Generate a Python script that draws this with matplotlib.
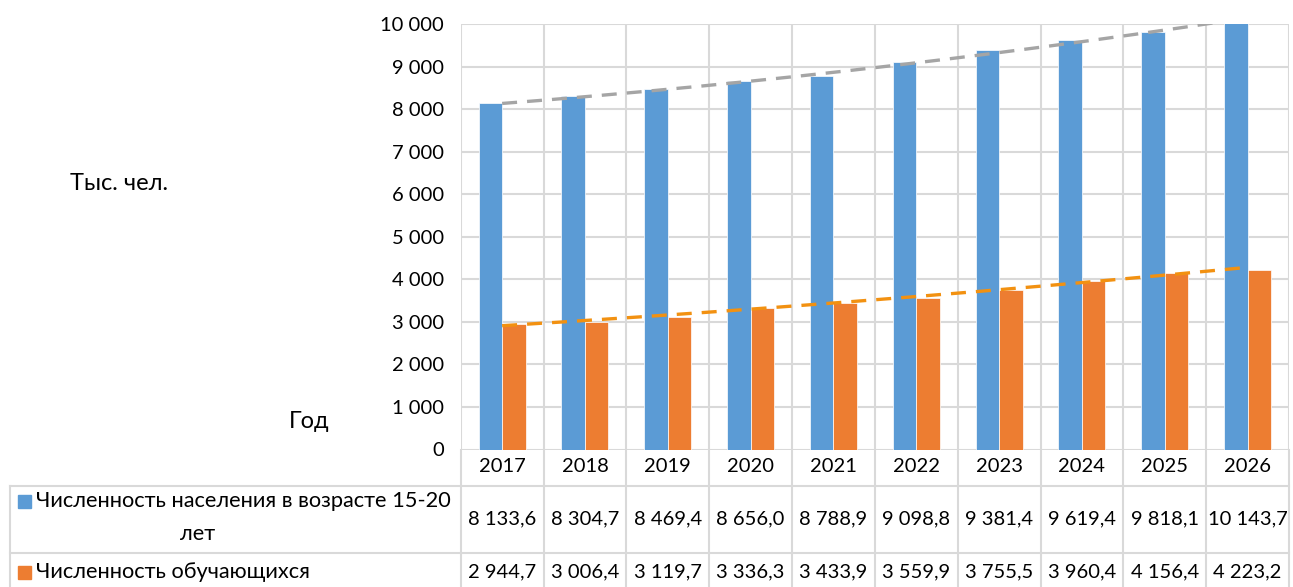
import numpy as np
import matplotlib
matplotlib.use("Agg")
import matplotlib.pyplot as plt
import matplotlib.transforms as mtransforms

# ==== data ====
years = ["2017", "2018", "2019", "2020", "2021", "2022", "2023", "2024", "2025", "2026"]
population = [8133.6, 8304.7, 8469.4, 8656.0, 8788.9, 9098.8, 9381.4, 9619.4, 9818.1, 10143.7]
students = [2944.7, 3006.4, 3119.7, 3336.3, 3433.9, 3559.9, 3755.5, 3960.4, 4156.4, 4223.2]
name_pop = "Численность населения в возрасте 15-20"
name_pop_2 = "лет"
name_stud = "Численность обучающихся"
ylabel = "Тыс. чел."
xlabel = "Год"

# ==== style ====
W, H = 1293, 587
blue = "#5B9BD5"
orange = "#ED7D31"
trend_gray = "#A5A5A5"
trend_orange = "#F29111"
grid_col = "#D9D9D9"
fs = 14.5          # numbers
fs_lbl = 15.7      # table row names
fs_title = 17.0    # axis titles
plt.rcParams["font.family"] = ["Lato", "Open Sans", "DejaVu Sans"]


def fmt(v):
    return f"{v:,.1f}".replace(",", " ").replace(".", ",")


fig = plt.figure(figsize=(W / 100, H / 100), dpi=100)

# overlay in pixel coords for labels / table
ov = fig.add_axes([0, 0, 1, 1])
ov.set_xlim(0, W)
ov.set_ylim(H, 0)
ov.axis("off")

left, right, top, bottom = 460.7, 1289.0, 24.0, 449.5
ax = fig.add_axes([left / W, 1 - bottom / H, (right - left) / W, (bottom - top) / H])

x = np.arange(len(years))
bw = 0.284
ax.bar(x - bw / 2, population, bw, color=blue, edgecolor="white", linewidth=0.5, zorder=3)
ax.bar(x + bw / 2, students, bw, color=orange, edgecolor="white", linewidth=0.5, zorder=3)

# trend lines (polynomial, like the Excel trendline)
xs = np.linspace(0, len(years) - 1, 200)
for vals, c in [(population, trend_gray), (students, trend_orange)]:
    p = np.polyfit(x, vals, 2)
    ax.plot(xs, np.polyval(p, xs), color=c, lw=2.4, dashes=(4.5, 3), zorder=4)

ax.set_xlim(-0.5, len(years) - 0.5)
ax.set_ylim(0, 10000)
yt = np.arange(0, 10001, 1000)
ax.set_yticks(yt)
ax.set_yticklabels([f"{v:,}".replace(",", " ") for v in yt], fontsize=fs)
ax.tick_params(axis="y", length=0, pad=12)
ax.set_xticks([])
for s in ax.spines.values():
    s.set_visible(False)
for v in yt:
    ax.axhline(v, color=grid_col, lw=1.5, zorder=1)
for b in np.arange(-0.5, len(years), 1.0):
    ax.axvline(b, color=grid_col, lw=1.5, zorder=1)

ov.text(70, 183, ylabel, fontsize=fs_title, va="center", ha="left")
ov.text(289, 421, xlabel, fontsize=fs_title, va="center", ha="left")

# ==== data table ====
tr = mtransforms.blended_transform_factory(ax.transData, ov.transData)
row_h0, row_h1 = 485.7, 553.0
for b in np.arange(-0.5, len(years), 1.0):
    ov.plot([b, b], [bottom, H + 5], color=grid_col, lw=1.5, transform=tr, clip_on=False)
ov.plot([10, 10], [row_h0, H + 5], color=grid_col, lw=1.5)
ov.plot([10, right], [row_h0, row_h0], color=grid_col, lw=1.5)
ov.plot([10, right], [row_h1, row_h1], color=grid_col, lw=1.5)

for i, yr in enumerate(years):
    ov.text(i, 467, yr, fontsize=fs, ha="center", va="center", transform=tr)
    ov.text(i, 519, fmt(population[i]), fontsize=fs, ha="center", va="center", transform=tr)
    ov.text(i, 572, fmt(students[i]), fontsize=fs, ha="center", va="center", transform=tr)

ov.add_patch(plt.Rectangle((18, 495), 13, 13, color=blue))
ov.text(36, 501, name_pop, fontsize=fs_lbl, ha="left", va="center")
ov.text(198, 534, name_pop_2, fontsize=fs_lbl, ha="center", va="center")
ov.add_patch(plt.Rectangle((18, 566), 13, 13, color=orange))
ov.text(36, 572, name_stud, fontsize=fs_lbl, ha="left", va="center")

fig.savefig("out.png", dpi=100)
